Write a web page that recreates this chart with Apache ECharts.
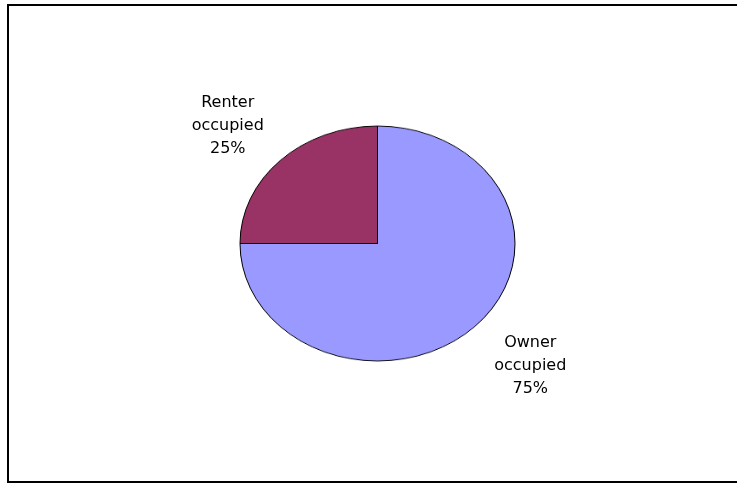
<!DOCTYPE html>
<html>
<head>
<meta charset="utf-8">
<script src="https://cdn.jsdelivr.net/npm/echarts@6/dist/echarts.min.js"></script>
<style>
  html, body { margin: 0; padding: 0; background: #fff; }
  .layer { position: absolute; left: 0; top: 0; width: 737px; height: 485px; }
  /* the original pie is an ellipse, so squash the slice layer vertically */
  #pie_layer { transform: scaleY(0.8545); transform-origin: 377.5px 243.5px; }
</style>
</head>
<body>
<div id="pie_layer" class="layer"></div>
<div id="label_layer" class="layer"></div>
<script>
const names = ['Owner\noccupied', 'Renter\noccupied']
const values = [75, 25]
const colors = ['#9999ff', '#993366']
const labelOffsets = [[17, -13], [-14, 18]]

const center = [377.5, 243.5]

const pieChart = echarts.init(document.getElementById('pie_layer'))
pieChart.setOption({
  animation: false,
  series: [
    {
      type: 'pie',
      center: center,
      radius: 137.5,
      startAngle: 90,
      clockwise: true,
      label: { show: false },
      labelLine: { show: false },
      data: names.map((n, i) => ({
        name: n,
        value: values[i],
        itemStyle: { color: colors[i], borderColor: '#000', borderWidth: 1 }
      }))
    }
  ]
})

const labelChart = echarts.init(document.getElementById('label_layer'))
labelChart.setOption({
  animation: false,
  graphic: [
    {
      type: 'rect',
      shape: { x: 8, y: 5, width: 740, height: 477 },
      style: { fill: 'none', stroke: '#000', lineWidth: 2 }
    }
  ],
  series: [
    {
      type: 'pie',
      center: center,
      radius: 378,
      startAngle: 90,
      clockwise: true,
      silent: true,
      itemStyle: { color: 'rgba(0,0,0,0)' },
      label: {
        show: true,
        position: 'inside',
        formatter: '{b}\n{d}%',
        fontFamily: 'DejaVu Sans',
        fontSize: 16,
        lineHeight: 23,
        color: '#000',
        align: 'center'
      },
      labelLine: { show: false },
      data: names.map((n, i) => ({
        name: n,
        value: values[i],
        label: { offset: labelOffsets[i] }
      }))
    }
  ]
})
</script>
</body>
</html>
